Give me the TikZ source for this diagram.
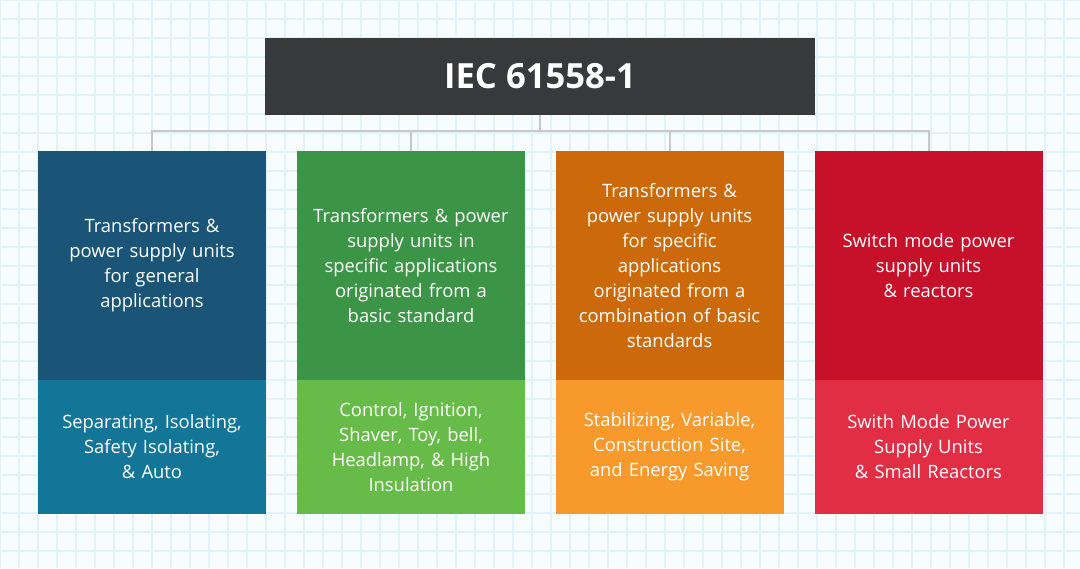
\documentclass[tikz,border=0pt]{standalone}
\usepackage{fontspec}
\usepackage{xcolor}
\setmainfont{Open Sans}
\usetikzlibrary{positioning}
\definecolor{bgpaper}{HTML}{F7FCFE}
\definecolor{gridblue}{HTML}{E2F2F9}
\definecolor{titlegray}{HTML}{38393B}
\definecolor{linkgray}{HTML}{C8C8C8}
\definecolor{blueA}{HTML}{1A5577}
\definecolor{blueB}{HTML}{137699}
\definecolor{greenA}{HTML}{3C9446}
\definecolor{greenB}{HTML}{67BB48}
\definecolor{orangeA}{HTML}{CC6A0B}
\definecolor{orangeB}{HTML}{F8992B}
\definecolor{redA}{HTML}{C7112B}
\definecolor{redB}{HTML}{E22E45}
\tikzstyle{header} = [rectangle, minimum width=412.5pt, minimum height=57.75pt, fill=titlegray, text=white, font=\fontsize{26}{30}\selectfont\bfseries]
\tikzstyle{group} = [rectangle, minimum width=171pt, minimum height=171.75pt, text width=165pt, align=center, text=white, font=\fontsize{13.8}{18.75}\selectfont, inner sep=0pt]
\tikzstyle{subgroup} = [rectangle, minimum width=171pt, minimum height=100.5pt, text width=165pt, align=center, text=white, font=\fontsize{13.8}{18.75}\selectfont, inner sep=0pt, anchor=north]
\tikzstyle{link} = [draw=linkgray, line width=1.5pt]

\begin{document}
\begin{tikzpicture}[x=0.75pt, y=-0.75pt]
        \fill[bgpaper] (0,0) rectangle (1080,568);
        \useasboundingbox (0,0) rectangle (1080,568);
        \foreach \gx in {0,19,...,1080} \draw[gridblue, line width=1pt] (\gx,0) -- (\gx,568);
        \foreach \gy in {0,19,...,568} \draw[gridblue, line width=1pt] (0,\gy) -- (1080,\gy);
        % top of the tree
        \node (iec) [header] at (540,76.5) {IEC 61558-1};
        \coordinate (hub) at (540,131);
        % four branches
        \node (gen) [group, fill=blueA] at (152,265.5) {Transformers \&\\ power supply units\\ for general\\ applications};
        \node (spec) [group, fill=greenA] at (411,265.5) {Transformers \& power\\ supply units in\\ specific applications\\ originated from a\\ basic standard};
        \node (comb) [group, fill=orangeA] at (669.5,265.5) {Transformers \&\\ power supply units\\ for specific\\ applications\\ originated from a\\ combination of basic\\ standards};
        \node (smps) [group, fill=redA] at (928.5,265.5) {Switch mode power\\ supply units\\ \& reactors};
        % examples under each branch
        \node (genex) [subgroup, fill=blueB] at ([yshift=0.5pt]gen.south) {Separating, Isolating,\\ Safety Isolating,\\ \& Auto};
        \node (specex) [subgroup, fill=greenB] at ([yshift=0.5pt]spec.south) {Control, Ignition,\\ Shaver, Toy, bell,\\ Headlamp, \& High\\ Insulation};
        \node (combex) [subgroup, fill=orangeB] at ([yshift=0.5pt]comb.south) {Stabilizing, Variable,\\ Construction Site,\\ and Energy Saving};
        \node (smpsex) [subgroup, fill=redB] at ([yshift=0.5pt]smps.south) {Swith Mode Power\\ Supply Units\\ \& Small Reactors};
        \draw [link] (iec.south) -- (hub);
        \draw [link] (hub) -| (gen.north);
        \draw [link] (hub) -| (spec.north);
        \draw [link] (hub) -| (comb.north);
        \draw [link] (hub) -| (smps.north);
    \end{tikzpicture}
\end{document}
